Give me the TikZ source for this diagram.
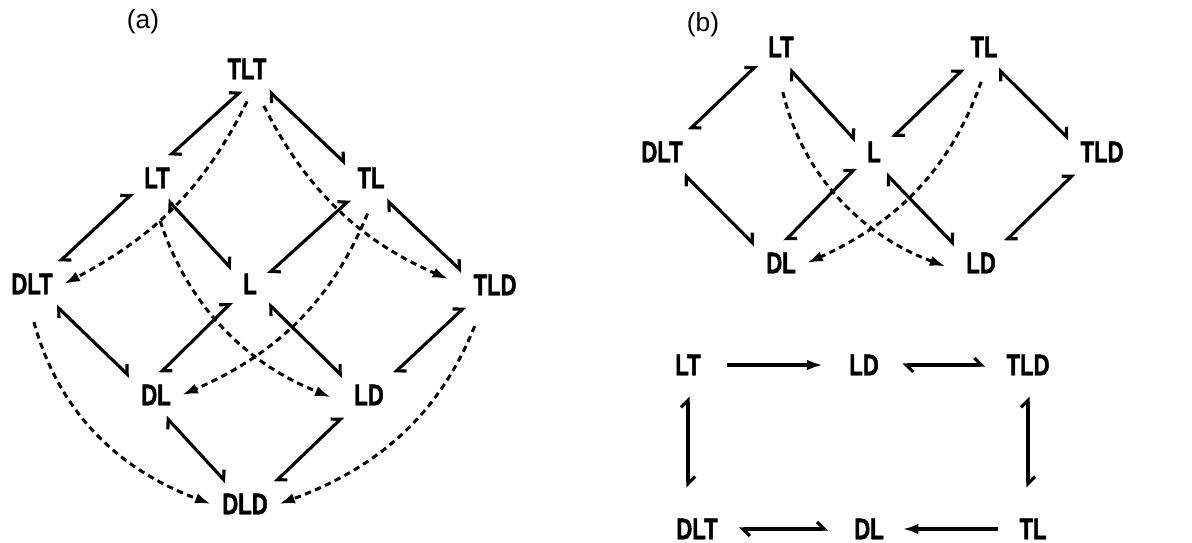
\documentclass[tikz,border=0pt]{standalone}
\usepackage{fontspec}
\setmainfont{Liberation Sans}
\newfontfamily\statefont{Liberation Sans}[FakeStretch=0.74,FakeBold=1.5]
\usetikzlibrary{arrows.meta}

\begin{document}
\begin{tikzpicture}[
    state/.style={inner sep=0.22cm, font=\statefont\bfseries\fontsize{17}{18}\selectfont},
    panel/.style={font=\fontsize{15}{16}\selectfont},
    rev/.style={line width=1.8pt, {Straight Barb[harpoon,length=4pt,width=8pt]}-{Straight Barb[harpoon,length=4pt,width=8pt]}},
    one/.style={line width=1.8pt, -{Latex[length=9pt,width=6pt]}},
    jump/.style={line width=1.7pt, dash pattern=on 3.6pt off 2.6pt, -{Latex[length=9pt,width=6pt]}}
]
    \useasboundingbox (0,0) rectangle (23.84,10.86);

    % (a)
    \node[panel] (pa) at (2.86,10.42) {(a)};
    \node[state] (TLT) at (4.94,9.48) {TLT};
    \node[state] (LT) at (3.14,7.30) {LT};
    \node[state] (TL) at (7.42,7.30) {TL};
    \node[state] (DLT) at (0.64,5.18) {DLT};
    \node[state] (L) at (5.00,5.18) {L};
    \node[state] (TLD) at (9.90,5.16) {TLD};
    \node[state] (DL) at (3.12,2.96) {DL};
    \node[state] (LD) at (7.38,2.96) {LD};
    \node[state] (DLD) at (4.90,0.78) {DLD};

    \draw[rev] (TLT.-104) -- (LT.61);
    \draw[rev] (TLT.-45) -- (TL.151);
    \draw[rev] (LT.212) -- (DLT.39);
    \draw[rev] (LT.-64) -- (L.141);
    \draw[rev] (TL.226) -- (L.29);
    \draw[rev] (TL.-55) -- (TLD.158);
    \draw[rev] (DLT.-42) -- (DL.145);
    \draw[rev] (L.225) -- (DL.80);
    \draw[rev] (L.-47) -- (LD.145);
    \draw[rev] (TLD.216) -- (LD.41);
    \draw[rev] (DL.-66) -- (DLD.131);
    \draw[rev] (LD.220) -- (DLD.36);

    \draw[jump, shorten <=0.24cm] (TLT.-76) to[bend left=18] (DLT.east);
    \draw[jump, shorten <=0.34cm, shorten >=0.3cm] (TLT.-67) to[bend right=20] (TLD.west);
    \draw[jump, shorten <=0.45cm, shorten >=0.26cm] (LT.-100) to[bend right=25] (LD.195);
    \draw[jump, shorten <=0.3cm] (TL.-84) to[bend left=22] (DL.east);
    \draw[jump, shorten <=0.34cm] (DLT.-97) to[bend right=27] (DLD.west);
    \draw[jump, shorten <=0.42cm] (TLD.-120) to[bend left=24] (DLD.east);

    % (b), top
    \node[panel] (pb) at (14.06,10.36) {(b)};
    \node[state] (LTb) at (15.62,9.92) {LT};
    \node[state] (TLb) at (19.68,9.92) {TL};
    \node[state] (DLTb) at (13.24,7.82) {DLT};
    \node[state] (Lb) at (17.48,7.82) {L};
    \node[state] (TLDb) at (22.04,7.82) {TLD};
    \node[state] (DLb) at (15.62,5.60) {DL};
    \node[state] (LDb) at (19.62,5.60) {LD};

    \draw[rev] (LTb.217) -- (DLTb.39);
    \draw[rev] (LTb.-69) -- (Lb.149);
    \draw[rev] (TLb.227) -- (Lb.38);
    \draw[rev] (TLb.-57) -- (TLDb.159);
    \draw[rev] (DLTb.-45) -- (DLb.146);
    \draw[rev] (Lb.221) -- (DLb.81);
    \draw[rev] (Lb.-61) -- (LDb.146);
    \draw[rev] (TLDb.218) -- (LDb.42);

    \draw[jump, shorten <=0.48cm, shorten >=0.2cm] (LTb.-100) to[bend right=28] (LDb.195);
    \draw[jump, shorten <=0.28cm] (TLb.-85) to[bend left=23] (DLb.east);

    % (b), bottom
    \node[state] (LTc) at (13.76,3.56) {LT};
    \node[state] (LDc) at (17.28,3.56) {LD};
    \node[state] (TLDc) at (20.56,3.56) {TLD};
    \node[state] (DLTc) at (13.94,0.28) {DLT};
    \node[state] (DLc) at (17.38,0.28) {DL};
    \node[state] (TLc) at (20.66,0.28) {TL};

    \draw[one, shorten <=0.3cm, shorten >=0.3cm] (LTc) -- (LDc);
    \draw[rev, shorten <=0.25cm, shorten >=0.2cm] (LDc) -- (TLDc);
    \draw[rev, shorten <=0.2cm, shorten >=0.4cm] (LTc) -- (LTc |- DLTc.north);
    \draw[rev, shorten <=0.2cm, shorten >=0.4cm] (TLDc) -- (TLDc |- TLc.north);
    \draw[rev, shorten <=0.2cm, shorten >=0.3cm] (DLTc) -- (DLc);
    \draw[one, shorten <=0.2cm, shorten >=0.15cm] (TLc) -- (DLc);
\end{tikzpicture}
\end{document}
